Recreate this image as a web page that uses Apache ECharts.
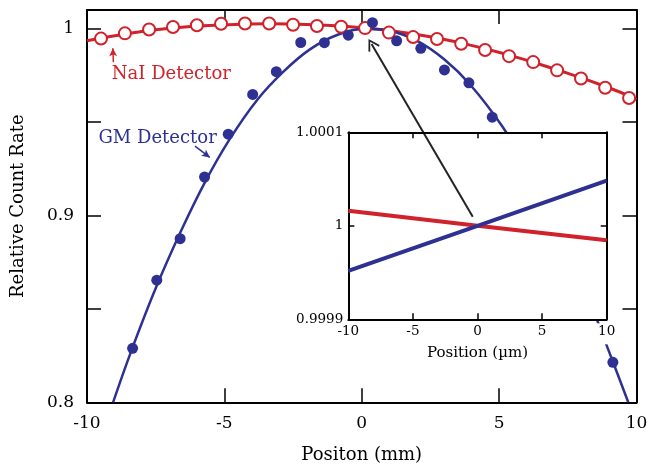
<!DOCTYPE html>
<html>
<head>
<meta charset="utf-8">
<script src="https://cdn.jsdelivr.net/npm/echarts@6/dist/echarts.min.js"></script>
<style>
  html, body { margin: 0; padding: 0; background: #fff; }
  #chart { width: 647px; height: 468px; }
</style>
</head>
<body>
<div id="chart"></div>
<script>
// NaI detector: measured points (open circles) and fitted curve
const naiX = [-9.49, -8.62, -7.74, -6.87, -6.00, -5.12, -4.25, -3.37, -2.50, -1.63, -0.75, 0.12,
  0.99, 1.87, 2.74, 3.62, 4.49, 5.36, 6.24, 7.11, 7.98, 8.86, 9.73]
const naiY = [0.9947, 0.9975, 0.9996, 1.0009, 1.0018, 1.0026, 1.0028, 1.0028, 1.0021, 1.0014, 1.0010, 1.0003,
  0.9979, 0.9955, 0.9945, 0.9919, 0.9886, 0.9853, 0.9821, 0.9777, 0.9733, 0.9684, 0.9629]
const naiFitX = [-10, -8.6, -6.9, -5.1, -3.4, -1.6, 0.1, 1.9, 3.6, 5.4, 7.1, 8.9, 10]
const naiFitY = [0.9935, 0.9972, 1.0004, 1.0020, 1.0026, 1.0020, 1.0004, 0.9972, 0.9924, 0.9857, 0.9780, 0.9689, 0.9622]

// GM detector: measured points (filled) and fitted curve
const gmX = [-8.34, -7.46, -6.61, -5.72, -4.86, -3.97, -3.11, -2.22, -1.36, -0.49, 0.39, 1.27, 2.15, 3.01, 3.90, 4.75, 9.14]
const gmY = [0.8289, 0.8654, 0.8876, 0.9206, 0.9435, 0.9648, 0.9770, 0.9926, 0.9925, 0.9965, 1.0032, 0.9935,
  0.9895, 0.9779, 0.9710, 0.9526, 0.8214]
const gmFitX = [-9.05, -8.4, -7.5, -6.6, -5.7, -4.8, -3.8, -2.85, -1.9, -0.9, 0.1, 1.0, 2.0, 3.0, 3.95, 5.1, 6.0, 7.0, 8.0, 8.9, 9.7]
const gmFitY = [0.800, 0.827, 0.861, 0.891, 0.918, 0.941, 0.962, 0.977, 0.9888, 0.9966, 0.9999, 0.9989, 0.9936,
  0.9836, 0.970, 0.948, 0.926, 0.898, 0.8655, 0.831, 0.800]

// inset: zoom around the centre (µm)
const insetX = [-10, 0, 10]
const insetNaI = [1.0000161, 1.0, 0.9999845]
const insetGM = [0.9999517, 1.0, 1.0000482]

const RED = '#d0222b'
const BLUE = '#2e3192'
const FONT = 'DejaVu Serif'

const pairs = (xs, ys) => xs.map((x, i) => [x, ys[i]])

const chart = echarts.init(document.getElementById('chart'))

const mainTick = { show: true, inside: true, length: 14, lineStyle: { color: '#000', width: 1.5 } }
const insetTick = { show: true, inside: true, length: 6, lineStyle: { color: '#000', width: 1.5 } }
const frameLine = { show: true, onZero: false, lineStyle: { color: '#000', width: 2 } }

const option = {
  animation: false,
  backgroundColor: '#fff',
  textStyle: { fontFamily: FONT },
  grid: [
    { left: 87, top: 10, right: 10.5, bottom: 65.7, z: 0, outerBoundsMode: 'none', containLabel: false },
    {
      left: 348.3, top: 132.3, width: 258.4, height: 187, show: true, backgroundColor: '#fff', borderWidth: 0, z: 5,
      outerBoundsMode: 'none', containLabel: false
    }
  ],
  xAxis: [
    {
      gridIndex: 0, type: 'value', min: -10, max: 10, interval: 5, position: 'bottom',
      axisLine: frameLine, axisTick: mainTick, splitLine: { show: false },
      axisLabel: { color: '#000', fontSize: 17, fontFamily: FONT, margin: 13 },
      name: 'Positon (mm)', nameLocation: 'middle', nameGap: 44,
      nameTextStyle: { color: '#000', fontSize: 18, fontFamily: FONT }
    },
    {
      gridIndex: 0, type: 'value', min: -10, max: 10, interval: 5, position: 'top',
      axisLine: frameLine, axisTick: mainTick, axisLabel: { show: false }, splitLine: { show: false }
    },
    {
      gridIndex: 1, type: 'value', min: -10, max: 10, interval: 5, position: 'bottom', z: 6,
      axisLine: frameLine, axisTick: insetTick, splitLine: { show: false },
      axisLabel: {
        color: '#000', fontSize: 13.5, fontFamily: FONT, margin: 4,
        backgroundColor: '#fff', padding: [1, 3, 6, 3]
      },
      name: 'Position (µm)', nameLocation: 'middle', nameGap: 23,
      nameTextStyle: { color: '#000', fontSize: 15, fontFamily: FONT }
    },
    {
      gridIndex: 1, type: 'value', min: -10, max: 10, interval: 5, position: 'top', z: 6,
      axisLine: frameLine, axisTick: insetTick, axisLabel: { show: false }, splitLine: { show: false }
    }
  ],
  yAxis: [
    {
      gridIndex: 0, type: 'value', min: 0.8, max: 1.01, interval: 0.05, position: 'left',
      axisLine: frameLine, axisTick: mainTick, splitLine: { show: false },
      axisLabel: {
        color: '#000', fontSize: 17, fontFamily: FONT, margin: 13,
        formatter: v => {
          if (Math.abs(v - 0.8) < 1e-6) return '0.8'
          if (Math.abs(v - 0.9) < 1e-6) return '0.9'
          if (Math.abs(v - 1) < 1e-6) return '1'
          return ''
        }
      },
      name: 'Relative Count Rate', nameLocation: 'middle', nameGap: 60,
      nameTextStyle: { color: '#000', fontSize: 18, fontFamily: FONT }
    },
    {
      gridIndex: 0, type: 'value', min: 0.8, max: 1.01, interval: 0.05, position: 'right',
      axisLine: frameLine, axisTick: mainTick, axisLabel: { show: false }, splitLine: { show: false }
    },
    {
      gridIndex: 1, type: 'value', min: 0.9999, max: 1.0001, interval: 0.0001, position: 'left', z: 6,
      axisLine: frameLine, axisTick: insetTick, splitLine: { show: false },
      axisLabel: { color: '#000', fontSize: 13.5, fontFamily: FONT, margin: 5 }
    },
    {
      gridIndex: 1, type: 'value', min: 0.9999, max: 1.0001, interval: 0.0001, position: 'right', z: 6,
      axisLine: frameLine, axisTick: insetTick, axisLabel: { show: false }, splitLine: { show: false }
    }
  ],
  series: [
    {
      name: 'NaI fit', type: 'line', xAxisIndex: 0, yAxisIndex: 0, z: 2,
      data: pairs(naiFitX, naiFitY), smooth: true, showSymbol: false,
      lineStyle: { color: RED, width: 3 },
      markLine: {
        silent: true, symbol: ['none', 'arrow'], symbolSize: [6, 8],
        label: { show: false }, lineStyle: { color: RED, width: 1.5, type: 'solid' },
        data: [[{ coord: [-9.04, 0.9821] }, { coord: [-9.06, 0.9895] }]]
      },
      markPoint: {
        silent: true, symbol: 'circle', symbolSize: 0,
        label: { show: true, position: 'inside', formatter: 'NaI Detector', color: RED, fontSize: 18, fontFamily: FONT },
        data: [{ coord: [-6.93, 0.9758] }]
      }
    },
    {
      name: 'NaI', type: 'scatter', xAxisIndex: 0, yAxisIndex: 0, z: 3,
      data: pairs(naiX, naiY), symbol: 'circle', symbolSize: 12,
      itemStyle: { color: '#fff', borderColor: RED, borderWidth: 2, opacity: 1 }
    },
    {
      name: 'GM fit', type: 'line', xAxisIndex: 0, yAxisIndex: 0, z: 2,
      data: pairs(gmFitX, gmFitY), smooth: 0.35, showSymbol: false,
      lineStyle: { color: BLUE, width: 2.5 },
      markLine: {
        silent: true, symbol: ['none', 'arrow'], symbolSize: [6, 8],
        label: { show: false }, lineStyle: { color: BLUE, width: 1.5, type: 'solid' },
        data: [[{ coord: [-6.07, 0.9371] }, { coord: [-5.53, 0.9311] }]]
      },
      markPoint: {
        silent: true, symbol: 'circle', symbolSize: 0,
        label: { show: true, position: 'inside', formatter: 'GM Detector', color: BLUE, fontSize: 18, fontFamily: FONT },
        data: [{ coord: [-7.43, 0.9413] }]
      }
    },
    {
      name: 'GM', type: 'scatter', xAxisIndex: 0, yAxisIndex: 0, z: 3,
      data: pairs(gmX, gmY), symbol: 'circle', symbolSize: 11,
      itemStyle: { color: BLUE, opacity: 1 }
    },
    {
      name: 'NaI inset', type: 'line', xAxisIndex: 2, yAxisIndex: 2, z: 7,
      data: pairs(insetX, insetNaI), showSymbol: false, lineStyle: { color: RED, width: 4 }
    },
    {
      name: 'GM inset', type: 'line', xAxisIndex: 2, yAxisIndex: 2, z: 7,
      data: pairs(insetX, insetGM), showSymbol: false, lineStyle: { color: BLUE, width: 4 }
    },
    {
      // pointer from the inset to the crossing point
      name: 'pointer', type: 'line', xAxisIndex: 0, yAxisIndex: 0, z: 8, data: [],
      markLine: {
        silent: true,
        symbol: ['none', 'path://M0 0 L6 10 L4.6 11 L0 3 L-4.6 11 L-6 10 Z'], symbolSize: [13, 12],
        label: { show: false }, lineStyle: { color: '#222', width: 2, type: 'solid' },
        data: [[{ coord: [4.04, 0.8993] }, { coord: [0.357, 0.99176] }]]
      }
    }
  ]
}

chart.setOption(option)
</script>
</body>
</html>
